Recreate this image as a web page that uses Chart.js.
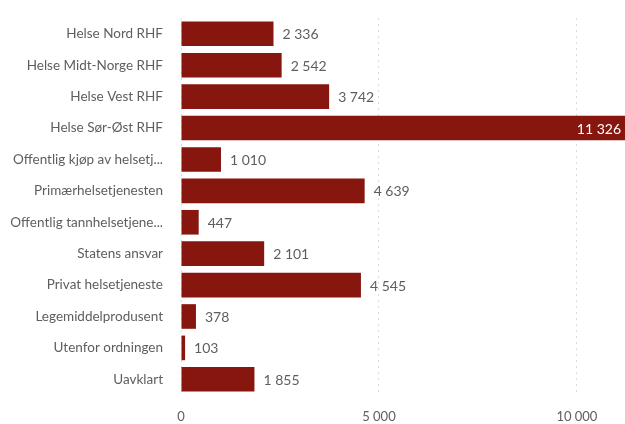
<!DOCTYPE html>
<html>
<head>
<meta charset="utf-8">
<script src="https://cdn.jsdelivr.net/npm/chart.js@4"></script>
<style>
  html, body { margin: 0; padding: 0; background: #fff; }
  #wrap { width: 625px; height: 424px; }
</style>
</head>
<body>
<div id="wrap"><canvas id="barChart"></canvas></div>
<script>
const categories = [
    'Helse Nord RHF',
    'Helse Midt-Norge RHF',
    'Helse Vest RHF',
    'Helse Sør-Øst RHF',
    'Offentlig kjøp av helsetj...',
    'Primærhelsetjenesten',
    'Offentlig tannhelsetjene...',
    'Statens ansvar',
    'Privat helsetjeneste',
    'Legemiddelprodusent',
    'Utenfor ordningen',
    'Uavklart'
];
const values = [2336, 2542, 3742, 11326, 1010, 4639, 447, 2101, 4545, 378, 103, 1855];
const tickValues = [0, 5000, 10000];

const barColor = '#87160f';
const textColor = '#605e5c';
const fontFamily = "Lato, 'Open Sans', sans-serif";

// skriv tall med mellomrom som tusenskille
function formatNo(v) {
    return String(v).replace(/\B(?=(\d{3})+(?!\d))/g, ' ');
}

// plugin som tegner verdiene ved enden av stolpene
const valueLabels = {
    id: 'valueLabels',
    afterDatasetsDraw(chart) {
        const ctx = chart.ctx;
        const meta = chart.getDatasetMeta(0);
        const area = chart.chartArea;
        ctx.save();
        ctx.font = '14px ' + fontFamily;
        ctx.textBaseline = 'middle';
        meta.data.forEach(function(bar, i) {
            const text = formatNo(values[i]);
            const w = ctx.measureText(text).width;
            if (bar.x + 8 + w > area.right) {
                ctx.fillStyle = '#ffffff';
                ctx.textAlign = 'right';
                ctx.fillText(text, Math.min(bar.x, area.right) - 4, bar.y + 1);
            } else {
                ctx.fillStyle = textColor;
                ctx.textAlign = 'left';
                ctx.fillText(text, bar.x + 9, bar.y + 1);
            }
        });
        ctx.restore();
    }
};

const ctx = document.getElementById('barChart').getContext('2d');

const barChart = new Chart(ctx, {
    type: 'bar',
    data: {
        labels: categories,
        datasets: [{
            data: values,
            backgroundColor: barColor,
            categoryPercentage: 0.8,
            barPercentage: 0.98
        }]
    },
    options: {
        indexAxis: 'y',
        responsive: true,
        maintainAspectRatio: false,
        animation: false,
        layout: { padding: { top: 11, right: 0, left: 0, bottom: 0 } },
        plugins: {
            legend: { display: false },
            tooltip: { enabled: false }
        },
        scales: {
            x: {
                min: 0,
                max: 11215,
                afterBuildTicks: function(scale) {
                    scale.ticks = tickValues.map(function(v) { return { value: v }; });
                },
                afterFit: function(scale) { scale.height = 29; },
                ticks: {
                    color: textColor,
                    padding: 14,
                    maxRotation: 0,
                    font: { family: fontFamily, size: 13 },
                    callback: function(v) { return formatNo(v); }
                },
                grid: {
                    color: '#dadada',
                    lineWidth: 1,
                    drawTicks: false
                },
                border: { display: false, dash: [2, 4] }
            },
            y: {
                afterFit: function(scale) { scale.width = 181; },
                ticks: {
                    color: textColor,
                    padding: 10,
                    font: { family: fontFamily, size: 13.5 }
                },
                grid: { display: false },
                border: { display: false }
            }
        }
    },
    plugins: [valueLabels]
});
</script>
</body>
</html>
